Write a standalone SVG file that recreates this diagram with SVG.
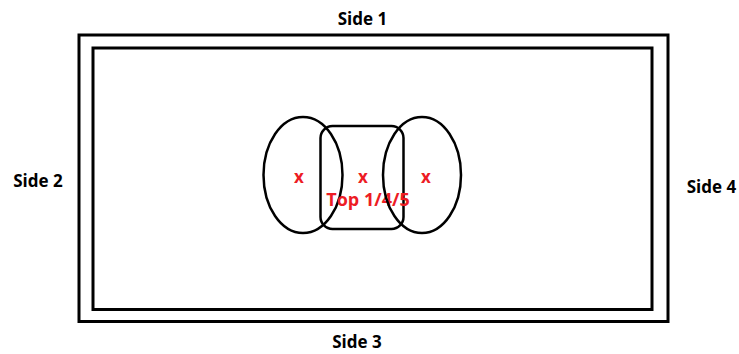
<svg xmlns="http://www.w3.org/2000/svg" width="739" height="354" viewBox="0 0 739 354">
<style>
.frame{fill:none;stroke:#000;stroke-width:3}
.shape{fill:none;stroke:#000;stroke-width:2.5}
.lbl{font-family:"Open Sans","Liberation Sans",sans-serif;font-weight:bold;font-size:17px;fill:#000;text-anchor:middle}
.red{font-family:"Open Sans","Liberation Sans",sans-serif;font-weight:bold;font-size:17px;fill:#ED1C24;text-anchor:middle}
</style>
<rect width="739" height="354" fill="#fff"/>
<g id="outer-frame"><rect class="frame" x="79" y="35" width="589" height="286.5"/></g>
<g id="inner-frame"><rect class="frame" x="93" y="48" width="559" height="261.5"/></g>
<g id="left-ellipse"><ellipse class="shape" cx="303" cy="175" rx="39.5" ry="58"/><text class="red" x="299" y="183">x</text></g>
<g id="center-box"><rect class="shape" x="320.5" y="126" width="83" height="103" rx="12" ry="12"/><text class="red" x="363" y="183">x</text><text class="red" x="368" y="206" style="font-size:18px">Top 1/4/5</text></g>
<g id="right-ellipse"><ellipse class="shape" cx="422" cy="175" rx="39" ry="58"/><text class="red" x="426" y="183">x</text></g>
<g id="labels">
<text class="lbl" x="362.5" y="25">Side 1</text>
<text class="lbl" x="38" y="187">Side 2</text>
<text class="lbl" x="357" y="348">Side 3</text>
<text class="lbl" x="711.5" y="193">Side 4</text>
</g>
<g id="connectors"></g>
</svg>
